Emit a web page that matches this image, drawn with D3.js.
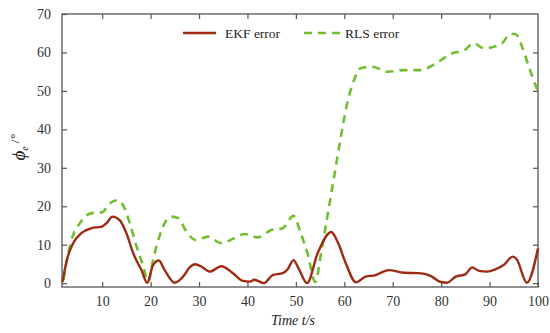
<!DOCTYPE html>
<html><head><meta charset="utf-8">
<script src="https://cdn.jsdelivr.net/npm/d3@7"></script>
<style>body{margin:0;background:#fff}svg{display:block}</style>
</head><body>
<svg id="c" width="550" height="333"></svg>
<script>
const ekfT = [1.8, 2.7, 4.0, 5.7, 7.8, 9.9, 10.9, 12.1, 13.6, 15.0, 16.4, 18.1, 19.3, 20.5, 21.7, 22.9, 25.0, 26.0, 27.0, 28.0, 29.2, 30.5, 32.2, 34.6, 37.0, 39.0, 40.5, 41.4, 43.4, 45.2, 47.3, 48.3, 49.5, 50.5, 52.3, 54.5, 57.3, 58.6, 60.3, 62.4, 64.4, 66.5, 67.5, 69.2, 72.3, 75.4, 77.8, 79.9, 81.2, 83.0, 85.0, 86.4, 87.8, 89.5, 91.2, 92.9, 94.8, 95.6, 97.7, 100];
const ekfV = [0.3, 6.0, 10.4, 13.0, 14.3, 14.7, 15.6, 17.3, 16.4, 13.0, 7.8, 3.4, 0.1, 4.7, 5.9, 3.4, 0.1, 0.8, 2.2, 4.0, 4.9, 4.3, 3.0, 4.4, 2.6, 0.6, 0.4, 0.9, 0.0, 2.1, 2.6, 3.6, 6.0, 4.0, 0.0, 7.8, 13.3, 10.8, 5.2, 0.2, 1.7, 2.1, 2.7, 3.4, 2.7, 2.6, 1.9, 0.3, 0.1, 1.7, 2.3, 4.1, 3.2, 3.0, 3.6, 4.7, 6.9, 6.2, 0.1, 9.1];
const rlsT = [2.0, 3.0, 4.0, 5.4, 6.8, 8.8, 9.9, 11.6, 13.3, 14.3, 15.7, 17.1, 18.4, 19.5, 20.5, 21.9, 23.3, 24.3, 25.7, 27.4, 29.4, 31.8, 34.6, 37.3, 39.4, 42.1, 44.9, 47.3, 49.5, 51.0, 52.4, 54.0, 55.2, 56.5, 57.9, 59.3, 60.6, 62.0, 63.4, 65.8, 68.9, 72.3, 75.8, 77.1, 79.5, 82.3, 84.7, 86.7, 88.8, 90.9, 92.6, 94.3, 95.3, 96.7, 98.1, 100];
const rlsV = [0.8, 7.8, 12.5, 15.6, 17.7, 18.4, 18.4, 20.8, 21.6, 20.3, 15.6, 9.5, 4.7, 0.4, 6.0, 12.5, 16.4, 17.3, 16.9, 13.4, 11.2, 12.1, 10.4, 11.7, 12.8, 11.9, 13.8, 14.3, 17.5, 13.0, 7.8, 0.3, 7.8, 17.3, 27.7, 38.1, 46.8, 52.8, 55.9, 56.3, 55.0, 55.4, 55.4, 55.9, 57.6, 59.8, 60.5, 62.4, 61.1, 61.5, 62.4, 64.8, 64.8, 61.5, 56.3, 49.8];
const xTicks = [10, 20, 30, 40, 50, 60, 70, 80, 90, 100];
const yTicks = [0, 10, 20, 30, 40, 50, 60, 70];
const seriesNames = ["EKF error", "RLS error"];

const svg = d3.select("#c");
const L = 62, R = 538, T = 14, B = 287;
const x = d3.scaleLinear().domain([1.7, 100]).range([L, R]);
const y = d3.scaleLinear().domain([-1, 70]).range([B, T]);
const axisColor = "#555";
const font = "'Liberation Serif','Times New Roman',serif";

svg.append("rect").attr("x", L).attr("y", T).attr("width", R - L).attr("height", B - T)
  .attr("fill", "none").attr("stroke", axisColor).attr("stroke-width", 1.3);

function styleAxis(g, labels) {
  g.select(".domain").remove();
  g.selectAll(".tick line").attr("stroke", axisColor).attr("stroke-width", 1.2);
  g.selectAll(".tick text").attr("fill", labels ? "#333" : "none")
    .style("font-family", font).style("font-size", "14px");
}
const xb = svg.append("g").attr("transform", `translate(0,${B})`)
  .call(d3.axisBottom(x).tickValues(xTicks).tickSizeInner(-5).tickSizeOuter(0).tickPadding(9));
styleAxis(xb, true);
const xt = svg.append("g").attr("transform", `translate(0,${T})`)
  .call(d3.axisTop(x).tickValues(xTicks.filter(d => d < 100)).tickSizeInner(-5).tickSizeOuter(0).tickFormat(""));
styleAxis(xt, false);
const yl = svg.append("g").attr("transform", `translate(${L},0)`)
  .call(d3.axisLeft(y).tickValues(yTicks).tickSizeInner(-5).tickSizeOuter(0).tickPadding(11));
styleAxis(yl, true);
const yr = svg.append("g").attr("transform", `translate(${R},0)`)
  .call(d3.axisRight(y).tickValues(yTicks.filter(d => d < 70)).tickSizeInner(-5).tickSizeOuter(0).tickFormat(""));
styleAxis(yr, false);

const ekf = ekfT.map((t, i) => [t, ekfV[i]]);
const rls = rlsT.map((t, i) => [t, rlsV[i]]);
const line = d3.line().x(d => x(d[0])).y(d => y(d[1])).curve(d3.curveMonotoneX);

svg.append("path").datum(rls).attr("d", line).attr("fill", "none")
  .attr("stroke", "#72bd2f").attr("stroke-width", 2.6).attr("stroke-dasharray", "8,6");
svg.append("path").datum(ekf).attr("d", line).attr("fill", "none")
  .attr("stroke", "#9e2a12").attr("stroke-width", 2.4);

const lg = svg.append("g");
lg.append("line").attr("x1", 183).attr("x2", 216).attr("y1", 33).attr("y2", 33)
  .attr("stroke", "#9e2a12").attr("stroke-width", 2.4);
lg.append("text").attr("x", 225).attr("y", 37.5).text(seriesNames[0])
  .style("font-family", font).style("font-size", "13.5px").attr("fill", "#222");
lg.append("line").attr("x1", 304).attr("x2", 342).attr("y1", 33).attr("y2", 33)
  .attr("stroke", "#72bd2f").attr("stroke-width", 2.6).attr("stroke-dasharray", "8,6");
lg.append("text").attr("x", 345).attr("y", 37.5).text(seriesNames[1])
  .style("font-family", font).style("font-size", "13.5px").attr("fill", "#222");

svg.append("text").attr("x", 293).attr("y", 325).attr("text-anchor", "middle")
  .style("font-family", font).style("font-size", "14px").style("font-style", "italic")
  .attr("fill", "#222").text("Time t/s");
const yt = svg.append("text").attr("transform", "translate(25,147) rotate(-90)")
  .attr("text-anchor", "middle").style("font-family", font).attr("fill", "#222");
yt.append("tspan").style("font-style", "italic").style("font-size", "19px").text("ϕ");
yt.append("tspan").style("font-style", "italic").style("font-size", "10px").attr("dy", 3).text("e");
yt.append("tspan").style("font-size", "13px").attr("dy", -9).attr("dx", 3).text("/");
yt.append("tspan").style("font-size", "13px").attr("dx", 1).text("°");
</script>
</body></html>
